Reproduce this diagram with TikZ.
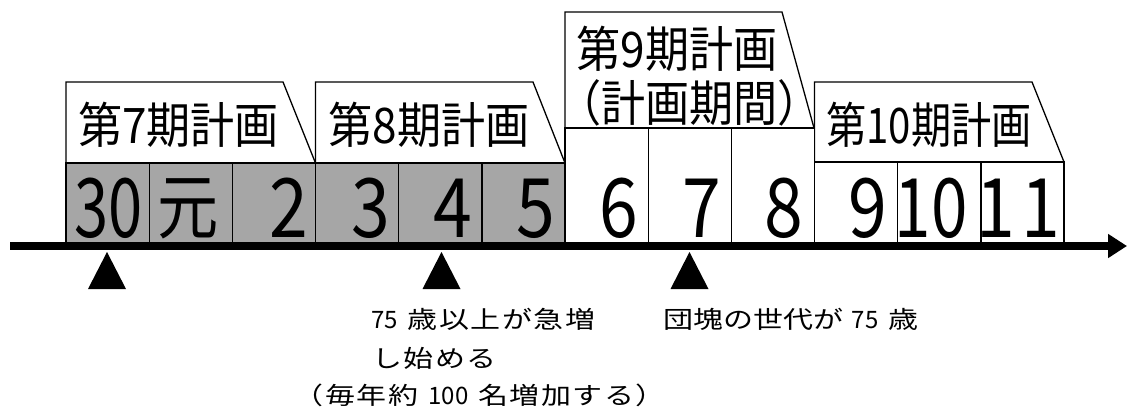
\documentclass[tikz,border=0pt]{standalone}
\usepackage{fontspec}
\newfontfamily\jp{Noto Sans CJK JP}
\usetikzlibrary{arrows.meta}
\definecolor{cellgray}{RGB}{166,166,166}
\newcommand\jwd{25.2pt}
\newcommand\jw[1]{\jwloop#1\relax}
\def\jwloop#1{\ifx\relax#1\else\makebox[\jwd][l]{#1}\expandafter\jwloop\fi}
\begin{document}
\begin{tikzpicture}[x=1pt,y=-1pt,
  cellbox/.style={draw, line width=1.2pt, inner sep=0pt, outer sep=0pt, minimum width=83.17pt, anchor=south west},
  gcell/.style={cellbox, fill=cellgray, minimum height=83pt},
  wcelltall/.style={cellbox, fill=white, minimum height=118pt},
  wcell/.style={cellbox, fill=white, minimum height=84pt},
  plan/.style={draw, line width=1.3pt, fill=white, line join=miter},
  lbl/.style={font=\jp\fontsize{49}{49}\selectfont, inner sep=0pt},
  num/.style={font=\jp\fontsize{82}{82}\selectfont, inner sep=0pt, anchor=base},
  note/.style={font=\jp\fontsize{24}{24}\selectfont, inner sep=0pt, anchor=base west},
  axis/.style={line width=8pt, -{Triangle[length=19pt,width=23pt]}},
  marker/.style={fill=black}
]
\useasboundingbox (0,0) rectangle (1128,408);

% plan period boxes (trapezoids)
\coordinate (p7a) at (66,163);   \coordinate (p7b) at (66,82);   \coordinate (p7c) at (283,82);  \coordinate (p7d) at (315.5,163);
\coordinate (p8a) at (315.5,163);\coordinate (p8b) at (315.5,82);\coordinate (p8c) at (533,82);  \coordinate (p8d) at (565,163);
\coordinate (p9a) at (565,128);  \coordinate (p9b) at (565,12);  \coordinate (p9c) at (782,12);  \coordinate (p9d) at (814,128);
\coordinate (p10a) at (814.5,162);\coordinate (p10b) at (814.5,82);\coordinate (p10c) at (1032,82);\coordinate (p10d) at (1064,162);
\draw[plan] (p7a) -- (p7b) -- (p7c) -- (p7d) -- cycle;
\draw[plan] (p8a) -- (p8b) -- (p8c) -- (p8d) -- cycle;
\draw[plan] (p9a) -- (p9b) -- (p9c) -- (p9d) -- cycle;
\draw[plan] (p10a) -- (p10b) -- (p10c) -- (p10d) -- cycle;

\node[lbl] (l7) at (178.5,125) {\scalebox{0.9}[1]{第7期計画}};
\node[lbl] (l8) at (429,125) {\scalebox{0.9}[1]{第8期計画}};
\node[lbl] (l9a) at (677,49) {\scalebox{0.9}[1]{第9期計画}};
\node[lbl, anchor=west] (l9b) at (557,103) {\scalebox{0.9}[1]{（計画期間）}};
\node[lbl] (l10) at (929,125) {\scalebox{0.82}[1]{第10期計画}};

% year cells
\node[gcell] (c1) at (66,246) {};
\node[gcell] (c2) at (149.17,246) {};
\node[gcell] (c3) at (232.34,246) {};
\node[gcell] (c4) at (315.5,246) {};
\node[gcell] (c5) at (398.7,246) {};
\node[gcell] (c6) at (481.9,246) {};
\node[wcelltall] (c7) at (565,246) {};
\node[wcelltall] (c8) at (648.2,246) {};
\node[wcelltall] (c9) at (731.4,246) {};
\node[wcell] (c10) at (814.5,246) {};
\node[wcell] (c11) at (897.7,246) {};
\node[wcell] (c12) at (980.9,246) {};

\node[num] (n1) at (108.5,237) {\scalebox{0.75}[1]{30}};
\node[num, font=\jp\fontsize{72}{72}\selectfont] (n2) at (188.5,233) {\scalebox{0.85}[1]{元}};
\node[num] (n3) at (289,237) {\scalebox{0.85}[1]{2}};
\node[num] (n4) at (370.5,237) {\scalebox{0.85}[1]{3}};
\node[num] (n5) at (452.5,237) {\scalebox{0.85}[1]{4}};
\node[num] (n6) at (536,237) {\scalebox{0.85}[1]{5}};
\node[num] (n7) at (619,237) {\scalebox{0.85}[1]{6}};
\node[num] (n8) at (702,237) {\scalebox{0.85}[1]{7}};
\node[num] (n9) at (784,237) {\scalebox{0.85}[1]{8}};
\node[num] (n10) at (867.5,237) {\scalebox{0.85}[1]{9}};
\node[num] (n11) at (931,237) {\scalebox{0.8}[1]{10}};
\node[num] (n12) at (1018,237) {\scalebox{0.85}[1]{1}\hspace{6pt}\scalebox{0.85}[1]{1}};

% time axis
\coordinate (ax0) at (10,246);
\coordinate (ax1) at (1127,246);
\draw[axis] (ax0) -- (ax1);

% markers
\fill[marker] (88,289) -- (107,252) -- (126,289) -- cycle;
\fill[marker] (422.5,289) -- (441.5,252) -- (460.5,289) -- cycle;
\fill[marker] (670.5,289) -- (689.5,252) -- (708.5,289) -- cycle;

% notes
\node[note] (t1) at (371,328) {\scalebox{1.25}[1]{\scalebox{0.8}[1]{75}\hspace{8pt}\jw{歳以上が急増}}};
\node[note] (t2) at (372,367) {\scalebox{1.25}[1]{\jw{し始める}}};
\node[note] (t3) at (293.5,404) {\scalebox{1.25}[1]{\jw{（毎年約}\hspace{7pt}\scalebox{0.8}[1]{100}\hspace{8pt}\jw{名増加する）}}};
\node[note] (t4) at (663,328) {\scalebox{1.25}[1]{\renewcommand\jwd{24pt}\jw{団塊の世代が}\hspace{7pt}\scalebox{0.8}[1]{75}\hspace{8pt}\jw{歳}}};
\end{tikzpicture}
\end{document}
